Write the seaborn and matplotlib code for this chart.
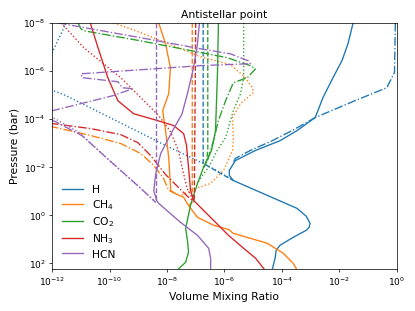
import numpy as np
import matplotlib
matplotlib.use("Agg")
import matplotlib.pyplot as plt
import seaborn as sns

# each profile: (log10 pressure [bar], log10 volume mixing ratio)
h_solid = [(-8.0, -1.52), (-7.13, -1.70), (-6.42, -1.91), (-5.72, -2.22), (-4.89, -2.57),
           (-4.06, -2.84), (-3.52, -3.47), (-3.10, -4.06), (-2.69, -4.92), (-2.27, -5.62),
           (-1.86, -5.83), (-1.65, -5.83), (-1.44, -5.69), (-0.53, -3.95), (-0.28, -3.47),
           (0.05, -3.15), (0.34, -3.02), (0.50, -3.05), (0.63, -3.15), (0.92, -3.60),
           (1.25, -4.06), (1.46, -4.20), (1.75, -4.23), (2.24, -4.33)]
h_dash = [(-8.0, -6.74), (-2.15, -6.74), (-1.44, -5.69)]
h_dot = [(-8.0, -11.51), (-6.76, -12.0), (-6.0, -12.6), (-5.2, -12.0), (-4.97, -11.51),
         (-2.9, -8.05), (-2.07, -6.59), (-1.44, -5.69)]
h_dashdot = [(-8.0, -0.05), (-5.93, -0.08), (-5.7, -0.18), (-5.3, -0.35), (-4.76, -1.46),
             (-4.06, -2.84), (-3.52, -3.64), (-3.1, -4.33), (-2.69, -5.1), (-2.36, -5.62),
             (-2.19, -5.69)]

ch4_solid = [(-8.0, -8.29), (-7.13, -8.05), (-6.13, -7.88), (-5.05, -7.94), (-4.35, -8.15),
             (-3.52, -8.05), (-2.4, -7.94), (-1.03, -7.87), (-0.9, -7.72), (-0.74, -7.42),
             (-0.4, -7.25), (0.09, -6.94), (0.42, -6.38), (0.6, -5.85), (0.76, -5.69),
             (1.17, -4.51), (1.59, -3.95), (2.0, -3.61), (2.24, -3.49)]
ch4_dash = [(-8.0, -7.12), (-0.55, -7.12), (-0.35, -7.27)]
ch4_dot = [(-8.0, -9.85), (-7.59, -8.91), (-6.59, -6.83), (-6.26, -5.79), (-5.72, -5.27),
           (-5.3, -5.03), (-5.1, -4.99), (-4.64, -5.44), (-4.06, -5.72), (-3.1, -5.69),
           (-2.69, -5.72), (-1.86, -6.03), (-1.32, -6.48), (-1.11, -7.0), (-0.82, -7.53)]
ch4_dashdot = [(-4.2, -13.0), (-3.68, -12.0), (-3.31, -10.65), (-2.98, -9.61), (-2.56, -8.91),
               (-2.07, -8.46), (-1.53, -8.12), (-1.03, -7.94), (-0.9, -7.72)]

co2_solid = [(-8.0, -6.21), (-6.0, -6.24), (-3.52, -6.31), (-2.69, -6.45), (-1.98, -6.73),
             (-1.32, -6.94), (-0.41, -7.18), (0.55, -7.35), (1.13, -7.28), (1.54, -7.25),
             (1.96, -7.35), (2.24, -7.6)]
co2_dash = [(-8.0, -6.58), (-2.69, -6.58), (-2.27, -6.62), (-1.98, -6.73)]
co2_dot = [(-8.0, -5.33), (-5.72, -5.33), (-5.05, -5.44), (-4.35, -5.69), (-3.23, -5.96),
           (-2.69, -6.25), (-2.0, -6.55), (-1.6, -6.8), (-1.32, -6.94)]
co2_dashdot = [(-8.0, -11.1), (-7.75, -10.99), (-7.67, -10.89), (-7.25, -8.91), (-6.55, -5.9),
               (-6.22, -5.1), (-6.09, -4.92), (-5.72, -5.2), (-5.51, -5.69), (-4.76, -5.96),
               (-3.93, -6.21), (-3.1, -6.38), (-2.27, -6.59), (-1.98, -6.73)]

nh3_solid = [(-8.0, -10.67), (-6.96, -10.4), (-5.72, -10.06), (-4.76, -9.71), (-4.22, -9.16),
             (-3.93, -8.32), (-3.73, -7.77), (-3.39, -7.42), (-2.9, -7.32), (-1.98, -7.25),
             (-1.03, -7.18), (-0.61, -7.07), (-0.2, -6.73), (0.3, -6.31), (0.84, -5.86),
             (1.34, -5.37), (1.79, -4.92), (2.24, -4.62)]
nh3_dash = [(-8.0, -7.0), (-0.55, -7.05)]
nh3_dot = [(-8.0, -11.69), (-6.96, -10.89), (-5.72, -9.61), (-4.97, -8.98), (-4.14, -8.29),
           (-3.52, -7.9), (-2.69, -7.6), (-1.86, -7.45), (-1.11, -7.3), (-0.55, -7.05)]
nh3_dashdot = [(-4.3, -13.0), (-3.81, -12.0), (-3.6, -10.65), (-3.35, -9.61), (-3.02, -9.02),
               (-2.48, -8.57), (-1.69, -8.05), (-1.15, -7.6), (-0.74, -7.25), (-0.55, -7.05)]

hcn_solid = [(-8.0, -6.87), (-7.0, -6.95), (-6.0, -7.1), (-5.0, -7.3), (-4.2, -7.48),
             (-3.52, -7.8), (-2.56, -8.22), (-1.73, -8.39), (-1.03, -8.46), (-0.61, -8.36),
             (-0.49, -8.29), (0.3, -7.53), (0.84, -6.94), (1.38, -6.55), (1.79, -6.48),
             (2.24, -6.48)]
hcn_dash = [(-8.0, -8.39), (-0.53, -8.39)]
hcn_dot = [(-4.5, -13.0), (-4.06, -11.97), (-3.44, -11.06), (-2.27, -10.0), (-1.11, -8.91),
           (-0.53, -8.39)]
hcn_dashdot = [(-8.0, -11.8), (-7.38, -8.91), (-6.92, -6.83), (-6.71, -5.79), (-6.42, -5.17),
               (-6.3, -5.1), (-6.22, -6.83), (-6.05, -8.91), (-5.88, -10.99), (-5.72, -10.95),
               (-5.55, -9.71), (-5.3, -9.55), (-5.26, -9.19), (-4.97, -9.88), (-4.35, -11.97),
               (-4.15, -12.6), (-3.9, -11.9), (-3.3, -10.95), (-2.27, -10.0), (-1.11, -8.91),
               (-0.53, -8.39)]

species = ["H", "CH$_4$", "CO$_2$", "NH$_3$", "HCN"]
profiles = [
    [h_solid, h_dash, h_dot, h_dashdot],
    [ch4_solid, ch4_dash, ch4_dot, ch4_dashdot],
    [co2_solid, co2_dash, co2_dot, co2_dashdot],
    [nh3_solid, nh3_dash, nh3_dot, nh3_dashdot],
    [hcn_solid, hcn_dash, hcn_dot, hcn_dashdot],
]
styles = ["-", "--", ":", "-."]
colors = sns.color_palette("tab10", len(species))

fig, ax = plt.subplots(figsize=(6.4, 4.8), dpi=64.85)
ax.set_xscale("log")
ax.set_yscale("log")

for name, color, curves in zip(species, colors, profiles):
    for ls, curve in zip(styles, curves):
        arr = np.array(curve)
        sns.lineplot(x=10 ** arr[:, 1], y=10 ** arr[:, 0], sort=False, estimator=None,
                     color=color, linestyle=ls, lw=1.5, ax=ax,
                     label=name if ls == "-" else None, legend=False)

ax.set_xlim(1e-12, 1)
ax.set_ylim(10 ** 2.24, 1e-8)
ax.set_xlabel("Volume Mixing Ratio", fontsize=12)
ax.set_ylabel("Pressure (bar)", fontsize=12)
ax.set_title("Antistellar point", fontsize=12)
ax.legend(loc="lower left", frameon=False, fontsize=12, labelspacing=0.3)
plt.tight_layout()
plt.savefig("out.png", dpi=64.85)
